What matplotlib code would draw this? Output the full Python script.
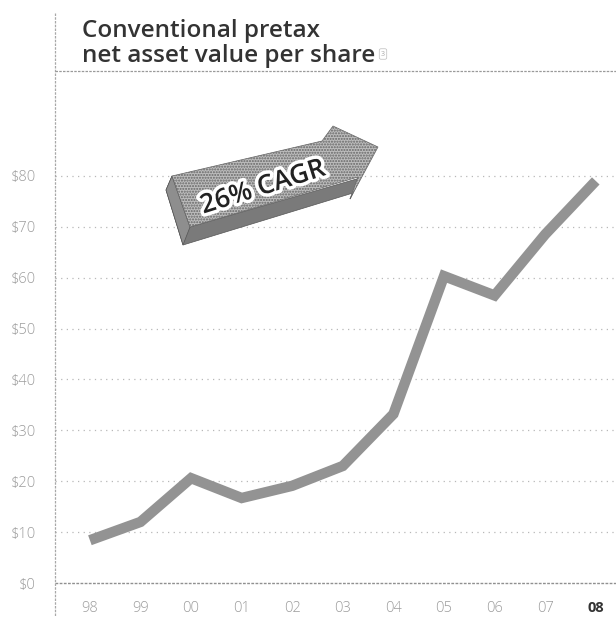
import matplotlib
matplotlib.use("Agg")
import matplotlib.pyplot as plt
import matplotlib.patheffects as pe
from matplotlib.patches import Polygon
from matplotlib.lines import Line2D

years = ["98", "99", "00", "01", "02", "03", "04", "05", "06", "07", "08"]
nav_per_share = [8.4, 12.0, 20.6, 16.7, 19.1, 23.0, 33.2, 60.3, 56.5, 68.5, 79.0]
y_ticks = [0, 10, 20, 30, 40, 50, 60, 70, 80]
y_labels = ["$0", "$10", "$20", "$30", "$40", "$50", "$60", "$70", "$80"]
title_lines = ["Conventional pretax", "net asset value per share"]
cagr_label = "26% CAGR"

W, H = 616, 617
fig = plt.figure(figsize=(W / 100, H / 100), dpi=100)
plt.rcParams['font.family'] = ['Open Sans', 'DejaVu Sans']


def fx(x):
    return x / W


def fy(y):
    return 1 - y / H


# plot area: left rule at x=55, $0 baseline at y=583, header rule at y=71
ax = fig.add_axes([fx(55), fy(583), fx(616) - fx(55), fy(71) - fy(583)])
x = list(range(len(years)))
ax.set_xlim(-0.69, 10.40)
ax.set_ylim(0, 100.6)

for v in y_ticks[1:]:
    ax.axhline(v, color="#b8b8b8", lw=0.9, ls=(0, (1, 3.5)), zorder=1)
ax.axhline(0, color="#909090", lw=1.0, ls=(0, (2, 1)), zorder=1, clip_on=False)

ax.plot(x, nav_per_share, color="#939393", lw=7.5, solid_joinstyle="miter",
        solid_capstyle="butt", zorder=3)

for s in ax.spines.values():
    s.set_visible(False)
ax.set_yticks(y_ticks)
ax.set_yticklabels(y_labels, color="#9c9c9c", fontsize=10.5, fontweight="light")
ax.set_xticks(x)
ax.set_xticklabels(years, color="#9c9c9c", fontsize=10.5, fontweight="light")
ax.get_xticklabels()[-1].set_color("#333333")
ax.get_xticklabels()[-1].set_fontweight("bold")
ax.tick_params(axis="y", length=0, pad=14)
ax.tick_params(axis="x", length=0, pad=13)

# frame rules: left dotted rule and header underline
fig.add_artist(Line2D([fx(55), fx(55)], [fy(13), fy(617)], color="#a8a8a8",
                      lw=0.9, ls=(0, (2, 1))))
fig.add_artist(Line2D([fx(55), fx(616)], [fy(71), fy(71)], color="#9a9a9a",
                      lw=0.9, ls=(0, (2, 1))))

for line, base in zip(title_lines, [37, 62]):
    fig.text(fx(82), fy(base), line, ha="left", va="baseline", fontsize=17.5,
             fontweight="semibold", color="#333333")
fig.text(fx(383), fy(54), "3", ha="center", va="center", fontsize=5,
         color="#aaaaaa",
         bbox=dict(boxstyle="round,pad=0.25", fc="white", ec="#bbbbbb", lw=0.5))

# 3D arrow: side faces then stippled top face
side = [(172, 176), (166, 190), (183, 245), (353, 193), (350, 199), (360, 178),
        (190, 227)]
cap = [(172, 176), (166, 190), (183, 245), (190, 227)]
top = [(172, 176), (322, 141), (333, 126), (378, 147), (350, 199), (358, 177),
       (190, 227)]
for pts, fc in [(side, "#7a7a7a"), (cap, "#8e8e8e")]:
    fig.add_artist(Polygon([(fx(a), fy(b)) for a, b in pts], closed=True,
                           transform=fig.transFigure, facecolor=fc,
                           edgecolor="#555555", lw=0.5))
fig.add_artist(Polygon([(fx(a), fy(b)) for a, b in top], closed=True,
                       transform=fig.transFigure, facecolor="#bdbdbd",
                       edgecolor="#666666", lw=0.5, hatch="......"))

fig.text(fx(263), fy(188), cagr_label, ha="center", va="center",
         rotation=17.5, fontsize=19, fontweight="semibold", color="#222222",
         path_effects=[pe.withStroke(linewidth=5, foreground="white")])

fig.savefig("out.png", dpi=100)
